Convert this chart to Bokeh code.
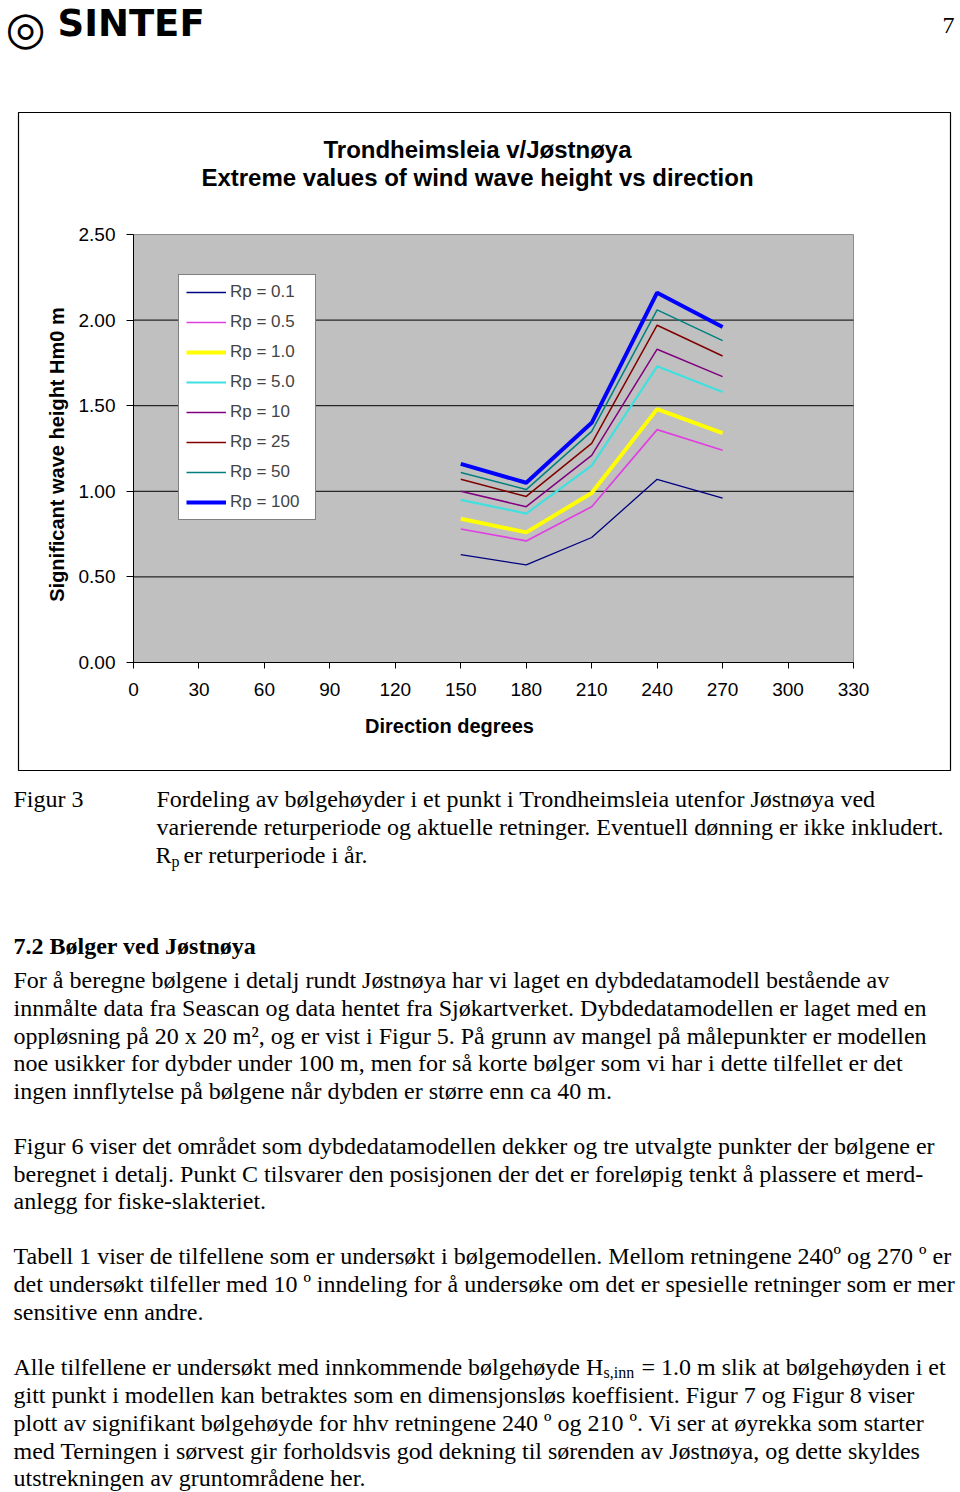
from math import pi
from bokeh.plotting import figure
from bokeh.models import Range1d, FixedTicker, NumeralTickFormatter, LinearAxis, Grid
from bokeh.core.properties import value
from bokeh.embed import file_html
from bokeh.resources import INLINE

# ---------------- data ----------------
directions = [150, 180, 210, 240, 270]
series_labels = ["Rp = 0.1", "Rp = 0.5", "Rp = 1.0", "Rp = 5.0", "Rp = 10", "Rp = 25", "Rp = 50", "Rp = 100"]
hm0_rp0_1 = [0.63, 0.57, 0.73, 1.07, 0.96]
hm0_rp0_5 = [0.78, 0.71, 0.91, 1.36, 1.24]
hm0_rp1 = [0.84, 0.76, 0.99, 1.48, 1.34]
hm0_rp5 = [0.95, 0.87, 1.15, 1.73, 1.58]
hm0_rp10 = [1.00, 0.91, 1.21, 1.83, 1.67]
hm0_rp25 = [1.07, 0.97, 1.28, 1.97, 1.79]
hm0_rp50 = [1.11, 1.01, 1.35, 2.06, 1.88]
hm0_rp100 = [1.16, 1.05, 1.40, 2.16, 1.96]
x_ticks = [0, 30, 60, 90, 120, 150, 180, 210, 240, 270, 300, 330]
y_ticks = [0.0, 0.5, 1.0, 1.5, 2.0, 2.5]

chart_title_1 = "Trondheimsleia v/Jøstnøya"
chart_title_2 = "Extreme values of wind wave height vs direction"
y_title = "Significant wave height Hm0 m"
x_title = "Direction degrees"

series = [hm0_rp0_1, hm0_rp0_5, hm0_rp1, hm0_rp5, hm0_rp10, hm0_rp25, hm0_rp50, hm0_rp100]
colors = ["#000080", "#E040E0", "#FFFF00", "#40E0E0", "#800080", "#800000", "#008080", "#0000FF"]
widths = [1.3, 1.7, 4, 2.2, 1.5, 1.5, 1.5, 4]

# ---------------- page geometry (page px) ----------------
W, H = 960, 1492
FL, FR, FT, FB = 133, 853, 234, 662  # chart plot area on the page
XMIN, XMAX = x_ticks[0], x_ticks[-1]
YMIN, YMAX = y_ticks[0], y_ticks[-1]
sx = (XMAX - XMIN) / (FR - FL)
sy = (YMAX - YMIN) / (FB - FT)

p = figure(width=W, height=H, output_backend="svg", toolbar_location=None,
           x_range=Range1d(0, W), y_range=Range1d(H, 0),
           x_axis_location=None, y_axis_location=None, min_border=0)
p.center = [r for r in p.center if not isinstance(r, Grid)]
p.outline_line_color = None
p.background_fill_color = "white"
p.border_fill_color = "white"
p.extra_x_ranges = {"dir": Range1d(XMIN - FL * sx, XMIN + (W - FL) * sx)}
p.extra_y_ranges = {"hm0": Range1d(YMIN - (H - FB) * sy, YMIN + FB * sy)}

# chart box & plot area
p.quad(left=18, right=950, top=112, bottom=770, fill_color=None, line_color="black", line_width=1.2)
p.quad(left=XMIN, right=XMAX, bottom=YMIN, top=YMAX, x_range_name="dir", y_range_name="hm0",
       fill_color="#C0C0C0", line_color="#8C8C8C", line_width=1)
grid_vals = y_ticks[1:-1]
p.segment(x0=[XMIN] * len(grid_vals), x1=[XMAX] * len(grid_vals), y0=grid_vals, y1=grid_vals,
          x_range_name="dir", y_range_name="hm0", line_color="black", line_width=1)

for vals, lab, c, w in zip(series, series_labels, colors, widths):
    p.line(directions, vals, line_color=c, line_width=w, legend_label=lab,
           x_range_name="dir", y_range_name="hm0")

# axes
xax = LinearAxis(x_range_name="dir", y_range_name="hm0", fixed_location=YMIN, bounds=(XMIN, XMAX),
                 ticker=FixedTicker(ticks=x_ticks))
yax = LinearAxis(x_range_name="dir", y_range_name="hm0", fixed_location=XMIN, bounds=(YMIN, YMAX),
                 ticker=FixedTicker(ticks=y_ticks), formatter=NumeralTickFormatter(format="0.00"))
for ax in (xax, yax):
    ax.axis_line_color = "black"
    ax.major_tick_line_color = "black"
    ax.minor_tick_line_color = None
    ax.major_tick_in = 0
    ax.major_label_text_font = "Liberation Sans"
    ax.major_label_text_font_size = "19px"
    ax.major_label_text_color = "black"
xax.major_tick_out = 6
xax.major_label_standoff = 14
yax.major_tick_out = 7
yax.major_label_standoff = 11
p.add_layout(xax, "below")
p.add_layout(yax, "left")

lg = p.legend[0]
lg.location = (178, H - 520)
lg.border_line_color = "black"
lg.border_line_width = 1
lg.background_fill_color = "white"
lg.background_fill_alpha = 1
lg.label_text_font = "Liberation Sans"
lg.label_text_font_size = "17px"
lg.glyph_width = 40
lg.glyph_height = 20
lg.label_height = 20
lg.label_width = 78
lg.spacing = 10
lg.padding = 7
lg.margin = 0
lg.label_standoff = 4


def txt(x, y, t, font="Liberation Serif", size=24, style="normal", align="left", angle=0):
    p.text(x=[x], y=[y], text=[t], text_font=value(font), text_font_size=value(f"{size}px"),
           text_font_style=style, text_align=align, text_baseline="middle", angle=angle,
           text_color="black")


txt(477, 149, chart_title_1, "Liberation Sans", 24, "bold", "center")
txt(477, 177, chart_title_2, "Liberation Sans", 24, "bold", "center")
txt(56, 454, y_title, "Liberation Sans", 20, "bold", "center", pi / 2)
txt(449, 725, x_title, "Liberation Sans", 20, "bold", "center")

# header
txt(25, 27, "◎", "DejaVu Sans", 46, "bold", "center")
txt(57, 23, "SINTEF", "DejaVu Sans", 37, "bold")
txt(954, 25, "7", "Liberation Serif", 24, "normal", "right")

# caption
txt(13, 798, "Figur 3")
txt(156, 798, "Fordeling av bølgehøyder i et punkt i Trondheimsleia utenfor Jøstnøya ved")
txt(156, 826, "varierende returperiode og aktuelle retninger. Eventuell dønning er ikke inkludert.")
txt(155, 854, "R")
txt(171, 861, "p", size=16)
txt(183, 854, "er returperiode i år.")

# body
txt(13, 945, "7.2 Bølger ved Jøstnøya", style="bold")
body = [
    (979, "For å beregne bølgene i detalj rundt Jøstnøya har vi laget en dybdedatamodell bestående av"),
    (1007, "innmålte data fra Seascan og data hentet fra Sjøkartverket. Dybdedatamodellen er laget med en"),
    (1035, "oppløsning på 20 x 20 m², og er vist i Figur 5. På grunn av mangel på målepunkter er modellen"),
    (1062, "noe usikker for dybder under 100 m, men for så korte bølger som vi har i dette tilfellet er det"),
    (1090, "ingen innflytelse på bølgene når dybden er større enn ca 40 m."),
    (1145, "Figur 6 viser det området som dybdedatamodellen dekker og tre utvalgte punkter der bølgene er"),
    (1173, "beregnet i detalj. Punkt C tilsvarer den posisjonen der det er foreløpig tenkt å plassere et merd-"),
    (1200, "anlegg for fiske-slakteriet."),
    (1255, "Tabell 1 viser de tilfellene som er undersøkt i bølgemodellen. Mellom retningene 240º og 270 º er"),
    (1283, "det undersøkt tilfeller med 10 º inndeling for å undersøke om det er spesielle retninger som er mer"),
    (1311, "sensitive enn andre."),
    (1394, "gitt punkt i modellen kan betraktes som en dimensjonsløs koeffisient.  Figur 7 og Figur 8 viser"),
    (1422, "plott av signifikant bølgehøyde for hhv retningene 240 º og 210 º.  Vi ser at øyrekka som starter"),
    (1450, "med Terningen i sørvest gir forholdsvis god dekning til sørenden av Jøstnøya, og dette skyldes"),
    (1477, "utstrekningen av gruntområdene her."),
]
for y, t in body:
    txt(13, y, t)
txt(13, 1366, "Alle tilfellene er undersøkt med innkommende bølgehøyde H")
txt(603, 1372, "s,inn", size=16)
txt(641, 1366, "= 1.0 m slik at bølgehøyden i et")

open("out.html", "w").write(file_html(p, INLINE))
